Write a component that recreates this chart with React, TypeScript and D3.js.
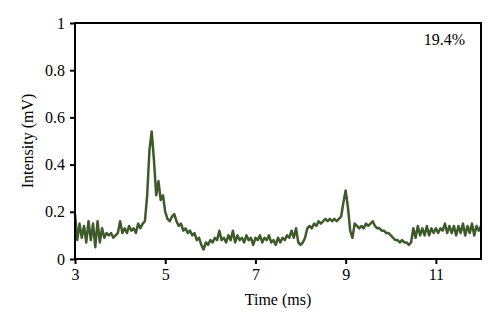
import { useEffect, useRef } from "react"
import * as d3 from "d3"

// intensity (mV) sampled every 0.05 ms from 3 ms to 12 ms
const startTime = 3
const timeStep = 0.05
const intensity = [
  0.19, 0.08, 0.15, 0.09, 0.14, 0.07, 0.16, 0.08, 0.15, 0.05,
  0.16, 0.07, 0.13, 0.09, 0.11, 0.10, 0.11, 0.09, 0.10, 0.11,
  0.16, 0.11, 0.13, 0.11, 0.14, 0.12, 0.13, 0.11, 0.15, 0.13,
  0.15, 0.16, 0.27, 0.46, 0.54, 0.42, 0.27, 0.33, 0.25, 0.27,
  0.20, 0.17, 0.16, 0.18, 0.19, 0.16, 0.14, 0.15, 0.12, 0.13,
  0.11, 0.12, 0.10, 0.11, 0.08, 0.09, 0.06, 0.04, 0.07, 0.06,
  0.08, 0.07, 0.09, 0.08, 0.12, 0.08, 0.09, 0.07, 0.10, 0.08,
  0.12, 0.07, 0.10, 0.08, 0.09, 0.07, 0.10, 0.08, 0.09, 0.06,
  0.09, 0.08, 0.10, 0.07, 0.09, 0.08, 0.10, 0.07, 0.08, 0.06,
  0.09, 0.07, 0.09, 0.08, 0.10, 0.09, 0.12, 0.09, 0.13, 0.07,
  0.06, 0.07, 0.09, 0.13, 0.14, 0.13, 0.15, 0.14, 0.16, 0.15,
  0.16, 0.17, 0.16, 0.17, 0.16, 0.17, 0.16, 0.17, 0.18, 0.24,
  0.29, 0.22, 0.12, 0.09, 0.15, 0.14, 0.13, 0.14, 0.13, 0.15,
  0.14, 0.15, 0.16, 0.14, 0.13, 0.13, 0.12, 0.12, 0.11, 0.11,
  0.10, 0.09, 0.08, 0.08, 0.07, 0.08, 0.07, 0.07, 0.06, 0.07,
  0.13, 0.09, 0.14, 0.10, 0.13, 0.10, 0.14, 0.10, 0.13, 0.11,
  0.13, 0.11, 0.13, 0.12, 0.15, 0.11, 0.14, 0.11, 0.14, 0.10,
  0.14, 0.11, 0.15, 0.10, 0.14, 0.11, 0.15, 0.10, 0.14, 0.12,
  0.14,
]
const xTicks = [3, 5, 7, 9, 11]
const yTicks = [0, 0.2, 0.4, 0.6, 0.8, 1]
const annotation = "19.4%"

export default function App() {
  const svgRef = useRef<SVGSVGElement>(null)

  useEffect(() => {
    if (!svgRef.current) return
    const width = 500
    const height = 326
    const margin = { top: 23, right: 19, bottom: 67, left: 75 }

    const svg = d3.select(svgRef.current)
    svg.selectAll("*").remove()
    svg.attr("width", width).attr("height", height)

    const font = "'Liberation Serif', 'DejaVu Serif', serif"

    const x = d3.scaleLinear().domain([3, 12]).range([margin.left, width - margin.right])
    const y = d3.scaleLinear().domain([0, 1]).range([height - margin.bottom, margin.top])

    const data = intensity.map((v, i) => ({ t: startTime + i * timeStep, v }))

    // trace
    const line = d3
      .line<{ t: number; v: number }>()
      .x((d) => x(d.t))
      .y((d) => y(d.v))
    svg
      .append("path")
      .datum(data)
      .attr("d", line)
      .attr("fill", "none")
      .attr("stroke", "#3d5a2a")
      .attr("stroke-width", 2.5)
      .attr("stroke-linejoin", "round")

    // frame
    svg
      .append("rect")
      .attr("x", x(3))
      .attr("y", y(1))
      .attr("width", x(12) - x(3))
      .attr("height", y(0) - y(1))
      .attr("fill", "none")
      .attr("stroke", "#000")
      .attr("stroke-width", 2)

    // axes
    const xAxis = svg
      .append("g")
      .attr("transform", `translate(0,${y(0)})`)
      .call(d3.axisBottom(x).tickValues(xTicks).tickSize(5).tickPadding(5).tickFormat(d3.format("d")))
    const yAxis = svg
      .append("g")
      .attr("transform", `translate(${x(3)},0)`)
      .call(
        d3
          .axisLeft(y)
          .tickValues(yTicks)
          .tickSize(5)
          .tickPadding(5)
          .tickFormat((d) => String(+d))
      )
    ;[xAxis, yAxis].forEach((a) => {
      a.select(".domain").remove()
      a.selectAll("line").attr("stroke", "#000").attr("stroke-width", 2)
      a.selectAll("text").attr("font-family", font).attr("font-size", 16).attr("fill", "#000")
    })

    // labels
    svg
      .append("text")
      .attr("x", (x(3) + x(12)) / 2)
      .attr("y", 305)
      .attr("text-anchor", "middle")
      .attr("font-family", font)
      .attr("font-size", 16)
      .text("Time (ms)")
    svg
      .append("text")
      .attr("transform", `translate(33,${(y(0) + y(1)) / 2}) rotate(-90)`)
      .attr("text-anchor", "middle")
      .attr("font-family", font)
      .attr("font-size", 16)
      .text("Intensity (mV)")
    svg
      .append("text")
      .attr("x", 465)
      .attr("y", 45)
      .attr("text-anchor", "end")
      .attr("font-family", font)
      .attr("font-size", 16)
      .text(annotation)
  }, [])

  return <svg ref={svgRef} style={{ position: "absolute", left: 0, top: 0 }} />
}
